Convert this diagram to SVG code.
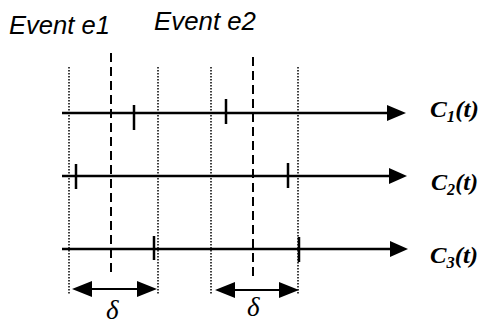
<svg xmlns="http://www.w3.org/2000/svg" width="481" height="325" viewBox="0 0 481 325">
<style>
.bg{fill:#fff}
.evt{font-family:"Liberation Sans",Arial,sans-serif;font-style:italic;font-size:25px;fill:#000}
.clab{font-family:"Liberation Serif","Times New Roman",serif;font-style:italic;font-weight:bold;font-size:24px;fill:#000}
.delta{font-family:"Liberation Serif","Times New Roman",serif;font-style:italic;font-size:27px;fill:#000}
.axis{stroke:#000;stroke-width:2.5;fill:none}
.tick{stroke:#000;stroke-width:2.5}
.dash{stroke:#000;stroke-width:2;stroke-dasharray:9 5;fill:none}
.dot{stroke:#000;stroke-width:1.5;stroke-dasharray:1.5 1.5;fill:none}
.dbl{stroke:#000;stroke-width:2;fill:none}
.head{fill:#000}
</style>
<rect class="bg" x="0" y="0" width="481" height="325"/>
<g id="guides">
<line class="dot" x1="69" y1="67" x2="69" y2="295"/>
<line class="dot" x1="158" y1="67" x2="158" y2="295"/>
<line class="dot" x1="211" y1="67" x2="211" y2="295"/>
<line class="dot" x1="298" y1="67" x2="298" y2="295"/>
</g>
<g id="event-e1">
<text class="evt" x="9" y="34" textLength="101" lengthAdjust="spacingAndGlyphs">Event e1</text>
<line class="dash" x1="111" y1="53" x2="111" y2="277"/>
</g>
<g id="event-e2">
<text class="evt" x="154" y="30" textLength="102" lengthAdjust="spacingAndGlyphs">Event e2</text>
<line class="dash" x1="253" y1="57" x2="253" y2="280"/>
</g>
<g id="connectors">
<line class="axis" x1="62" y1="113" x2="390" y2="113"/>
<polygon class="head" points="387,105 406,113 387,121"/>
<line class="axis" x1="62" y1="176" x2="391" y2="176"/>
<polygon class="head" points="389,168 407,176 389,184"/>
<line class="axis" x1="62" y1="249" x2="392" y2="249"/>
<polygon class="head" points="390,241 408,249 390,257"/>
<line class="dbl" x1="88" y1="289" x2="141" y2="289"/>
<polygon class="head" points="72,289 92,281 92,297"/>
<polygon class="head" points="157,289 137,281 137,297"/>
<line class="dbl" x1="231" y1="290" x2="283" y2="290"/>
<polygon class="head" points="215,290 235,282 235,298"/>
<polygon class="head" points="299,290 279,282 279,298"/>
</g>
<g id="clock-c1">
<line class="tick" x1="134" y1="105" x2="134" y2="130"/>
<line class="tick" x1="226" y1="99" x2="226" y2="124"/>
<text class="clab" x="430" y="117" textLength="49" lengthAdjust="spacingAndGlyphs">C<tspan font-size="16" dy="5">1</tspan><tspan dy="-5">(t)</tspan></text>
</g>
<g id="clock-c2">
<line class="tick" x1="76" y1="164" x2="76" y2="189"/>
<line class="tick" x1="288" y1="163" x2="288" y2="188"/>
<text class="clab" x="431" y="190" textLength="47" lengthAdjust="spacingAndGlyphs">C<tspan font-size="16" dy="5">2</tspan><tspan dy="-5">(t)</tspan></text>
</g>
<g id="clock-c3">
<line class="tick" x1="154" y1="236" x2="154" y2="260"/>
<line class="tick" x1="299" y1="237" x2="299" y2="262"/>
<text class="clab" x="430" y="263" textLength="48" lengthAdjust="spacingAndGlyphs">C<tspan font-size="16" dy="5">3</tspan><tspan dy="-5">(t)</tspan></text>
</g>
<g id="delta-labels">
<text class="delta" x="106" y="319">δ</text>
<text class="delta" x="247" y="316">δ</text>
</g>
</svg>
